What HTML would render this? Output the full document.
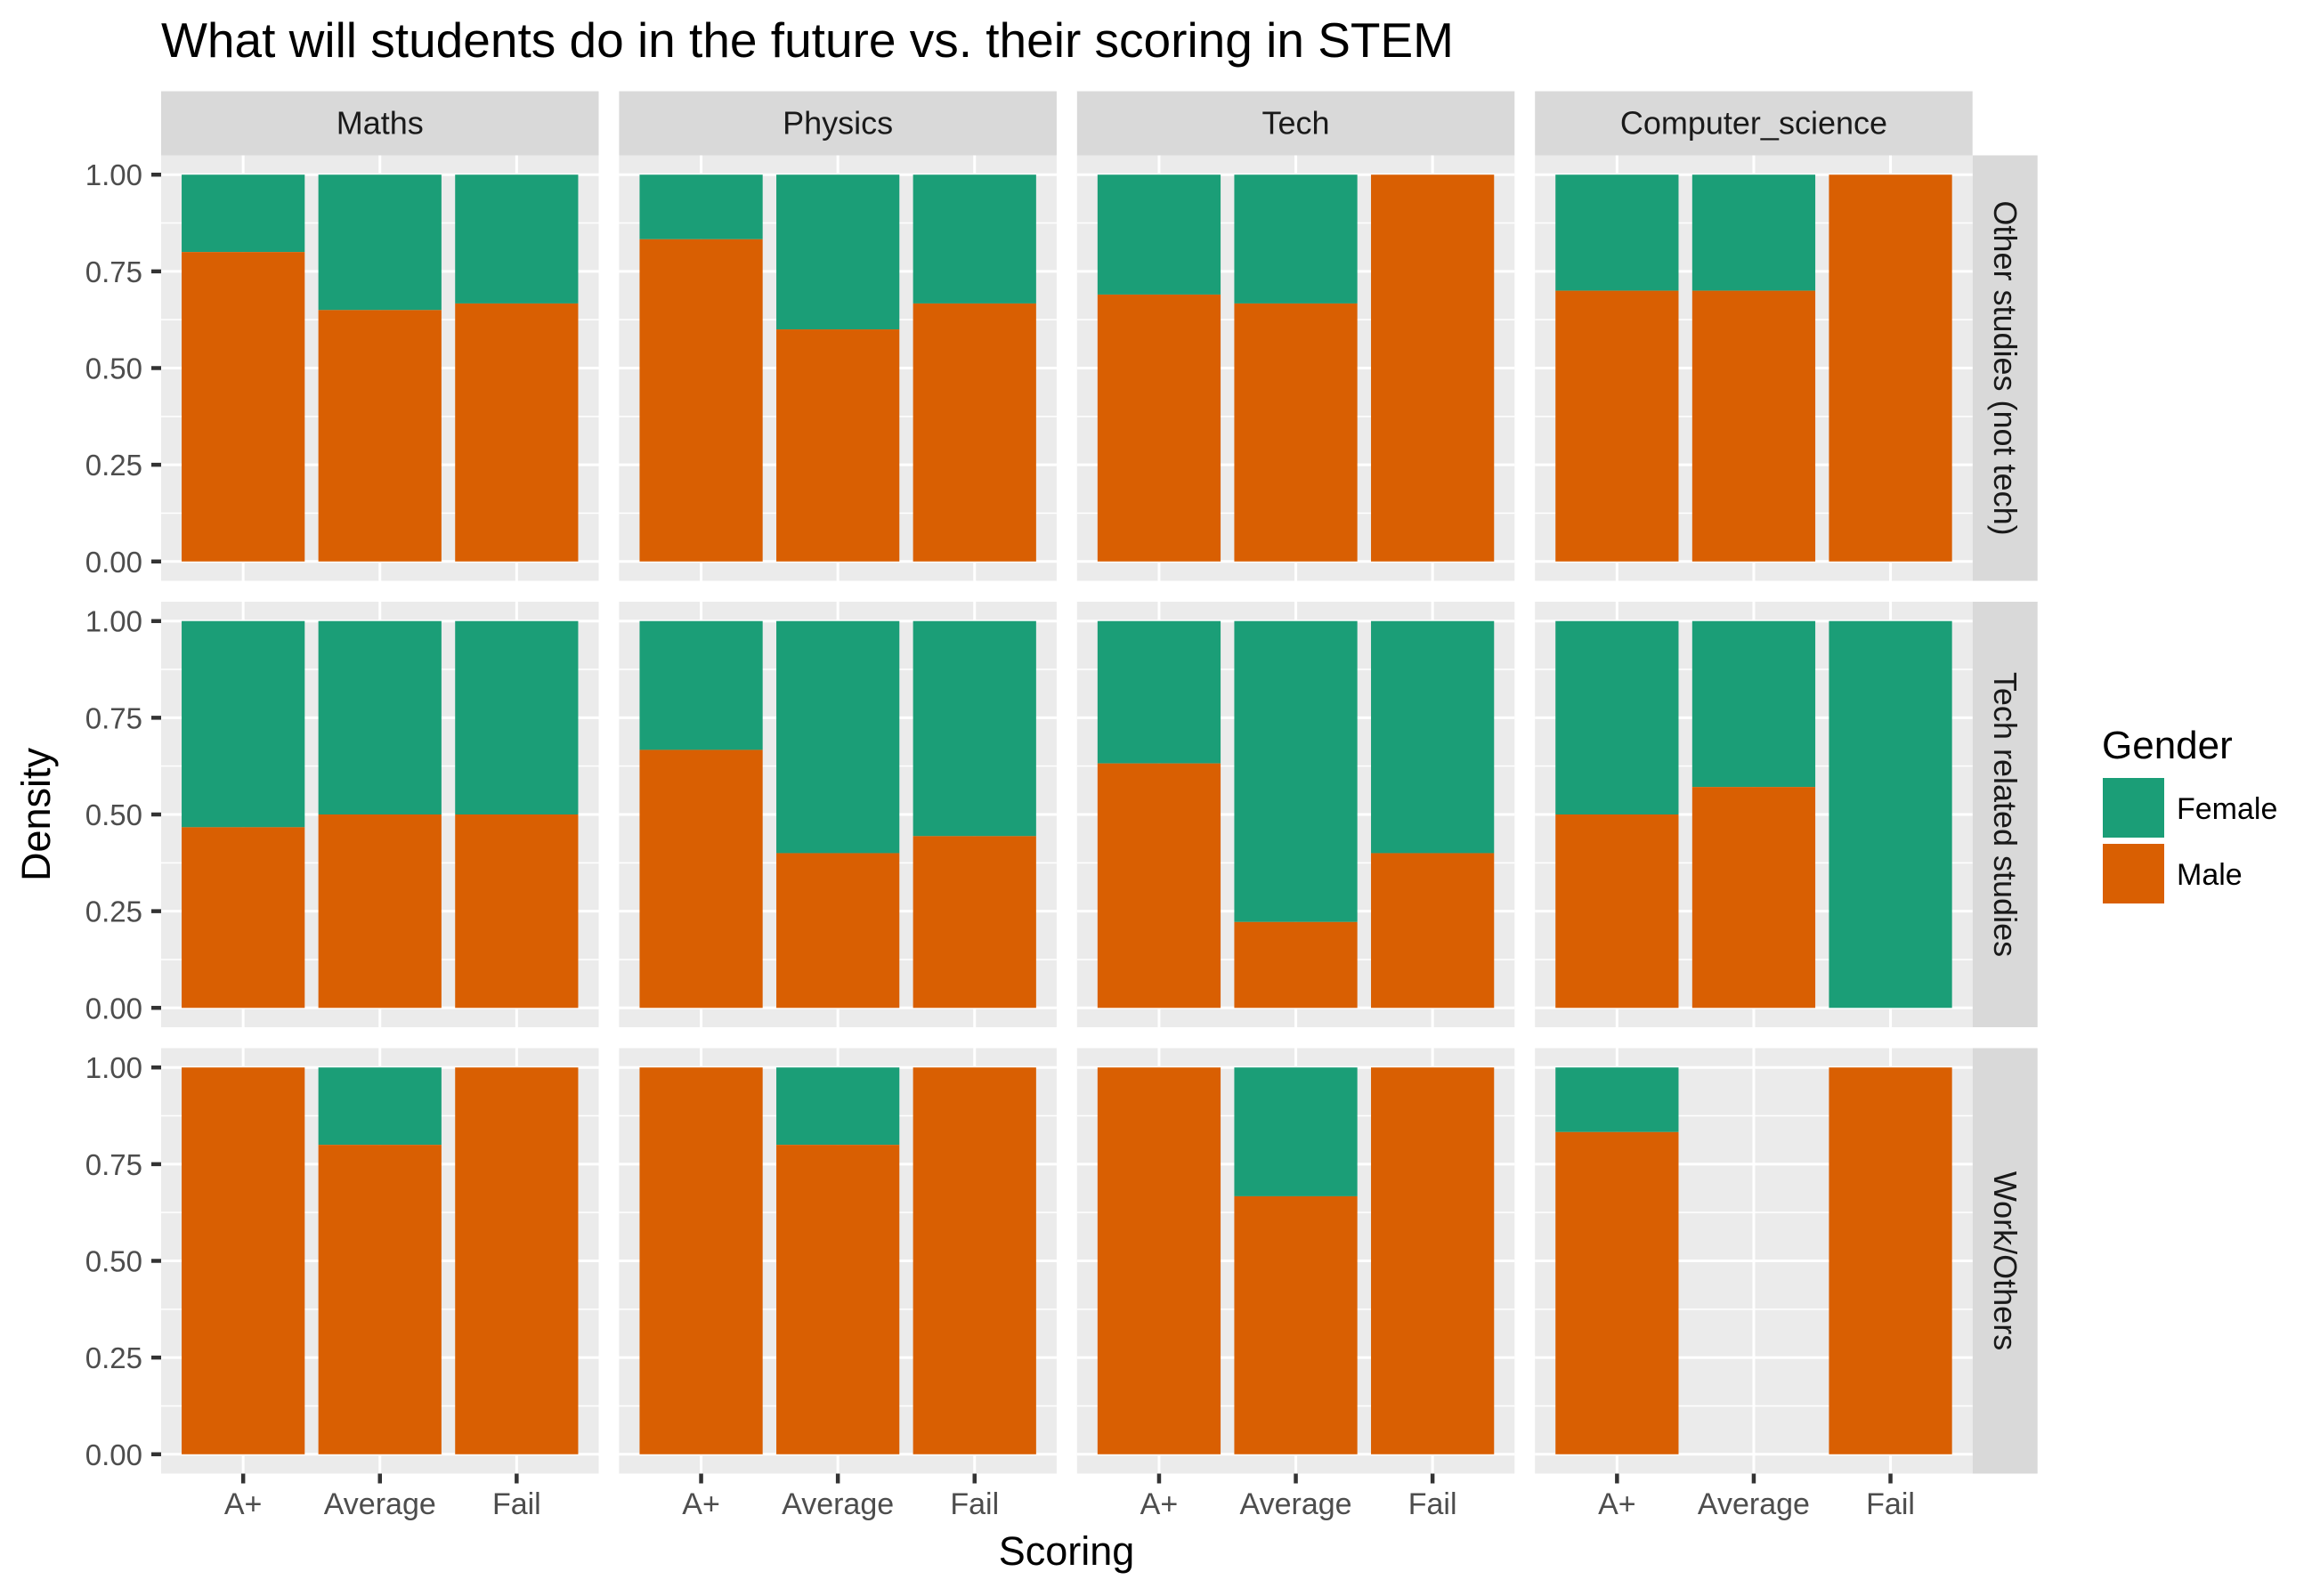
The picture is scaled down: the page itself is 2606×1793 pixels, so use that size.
<!DOCTYPE html>
<html><head><meta charset="utf-8"><style>
html,body{margin:0;padding:0;background:#fff}
svg{display:block}
text{font-family:"Liberation Sans",Arial,sans-serif}
</style></head><body>
<svg id="chart" width="2606" height="1793" viewBox="0 0 2606 1793" xmlns="http://www.w3.org/2000/svg">
<rect width="2606" height="1793" fill="#fff"/>
<text x="181" y="64" font-size="55" fill="#000">What will students do in the future vs. their scoring in STEM</text>
<g id="panels"></g>
<text x="1198" y="1758" font-size="45" text-anchor="middle" fill="#000">Scoring</text>
<text transform="translate(56,915) rotate(-90)" font-size="45" text-anchor="middle" fill="#000">Density</text>
<g>
<text x="2361" y="852" font-size="44" fill="#000">Gender</text>
<rect x="2362" y="874" width="69" height="67" fill="#1B9E77"/>
<text x="2445" y="920" font-size="34" fill="#000">Female</text>
<rect x="2362" y="948" width="69" height="67" fill="#D95F02"/>
<text x="2445" y="994" font-size="34" fill="#000">Male</text>
</g>
</svg>
<script>
const subjects = ["Maths","Physics","Tech","Computer_science"];
const futures = ["Other studies (not tech)","Tech related studies","Work/Others"];
const categories = ["A+","Average","Fail"];
const yTicks = [0,0.25,0.5,0.75,1];
const yTickLabels = ["0.00","0.25","0.50","0.75","1.00"];
// male share per future row -> subject -> category (female = 1 - male); null = no bar
const maleOther = [[0.80,0.65,0.667],[0.833,0.60,0.667],[0.69,0.667,1.0],[0.70,0.70,1.0]];
const maleTechRel = [[0.467,0.50,0.50],[0.667,0.40,0.444],[0.632,0.222,0.40],[0.50,0.571,0.0]];
const maleWork = [[1.0,0.80,1.0],[1.0,0.80,1.0],[1.0,0.667,1.0],[0.833,null,1.0]];
const maleShares = [maleOther, maleTechRel, maleWork];

const NS="http://www.w3.org/2000/svg";
const g=document.getElementById('panels');
const P0x=181, Pw=491.5, Ppitch=514.4, P0y=174.5, Ph=478, Rpitch=501.5, stripH=72, rstripW=73;
function mk(tag,attrs,parent){const e=document.createElementNS(NS,tag);for(const k in attrs)e.setAttribute(k,attrs[k]);(parent||g).appendChild(e);return e;}
function xs(c,left){return left+(c+1-0.4)/3.2*Pw;}
function ys(v,top){return top+Ph-(v+0.05)/1.1*Ph;}
const bw=0.9/3.2*Pw;

subjects.forEach((s,ci)=>{
  const left=P0x+ci*Ppitch;
  const st=mk('rect',{x:left,y:P0y-stripH,width:Pw,height:stripH,fill:'#D9D9D9'});
  
  
  const tt=mk('text',{x:left+Pw/2,y:P0y-stripH/2+12,'font-size':36,'text-anchor':'middle',fill:'#1a1a1a'});
  tt.textContent=s;
  
  
});
futures.forEach((f,ri)=>{
  const top=P0y+ri*Rpitch;
  const rs=mk('rect',{x:P0x+3*Ppitch+Pw,y:top,width:rstripW,height:Ph,fill:'#D9D9D9'});
  
  
  const cx=P0x+3*Ppitch+Pw+rstripW/2, cy=top+Ph/2;
  const rt=mk('text',{transform:`translate(${cx-12},${cy}) rotate(90)`,'font-size':36,'text-anchor':'middle',fill:'#1a1a1a'});
  rt.textContent=f;
  
  
  yTicks.forEach((v,i)=>{
    const y=ys(v,top);
    const tm=mk('line',{x1:170,x2:181,y1:y,y2:y,stroke:'#333',"stroke-width":4.5});
    
    
    const tl=mk('text',{x:160,y:y+12,'font-size':33,'text-anchor':'end',fill:'#4d4d4d'});
    tl.textContent=yTickLabels[i];
    
    
  });
  subjects.forEach((s,ci)=>{
    const left=P0x+ci*Ppitch;
    const bg=mk('rect',{x:left,y:top,width:Pw,height:Ph,fill:'#EBEBEB'});
    
    
    for(let k=0;k<4;k++){const y=ys(0.125+k*0.25,top);const l=mk('line',{x1:left,x2:left+Pw,y1:y,y2:y,stroke:'#fff','stroke-width':1.5});
      }
    yTicks.forEach(v=>{const y=ys(v,top);const l=mk('line',{x1:left,x2:left+Pw,y1:y,y2:y,stroke:'#fff','stroke-width':3});
      });
    categories.forEach((c,k)=>{const x=xs(k,left);const l=mk('line',{x1:x,x2:x,y1:top,y2:top+Ph,stroke:'#fff','stroke-width':3});
      });
    categories.forEach((c,k)=>{
      const m=maleShares[ri][ci][k];
      if(m===null) return;
      const x=xs(k,left)-bw/2;
      const ym=ys(m,top), y0=ys(0,top), y1=ys(1,top);
      if(m<1){const r=mk('rect',{x:x,y:y1,width:bw,height:ym-y1,fill:'#1B9E77'});
        }
      if(m>0){const r=mk('rect',{x:x,y:ym,width:bw,height:y0-ym,fill:'#D95F02'});
        }
    });
    if(ri===futures.length-1){
      categories.forEach((c,k)=>{const x=xs(k,left);
        const tm=mk('line',{x1:x,x2:x,y1:top+Ph,y2:top+Ph+11,stroke:'#333','stroke-width':4.5});
        
        const tl=mk('text',{x:x,y:1701,'font-size':34,'text-anchor':'middle',fill:'#4d4d4d'});
        tl.textContent=c;
        });
    }
  });
});
</script>
</body></html>
